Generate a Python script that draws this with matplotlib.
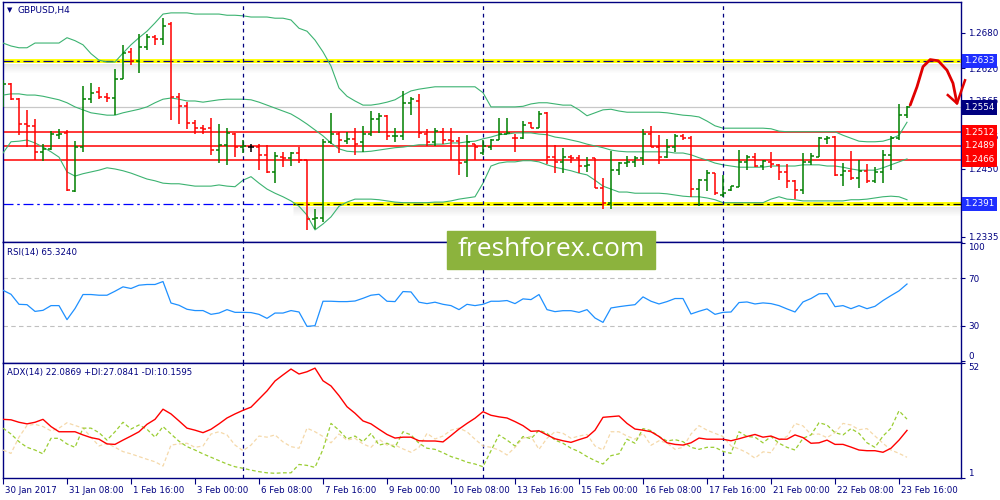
import matplotlib
matplotlib.use("Agg")
import matplotlib.pyplot as plt
import numpy as np
from matplotlib import transforms
from matplotlib.patches import Rectangle

# ---- data ----
opens = [1.2567, 1.2593, 1.2568, 1.2526, 1.2523, 1.2478, 1.2484, 1.2507, 1.2511, 1.2413,
         1.2487, 1.2568, 1.2581, 1.2572, 1.2570, 1.2603, 1.2647, 1.2633, 1.2656, 1.2673,
         1.2669, 1.2696, 1.2571, 1.2557, 1.2527, 1.2519, 1.2519, 1.2482, 1.2491, 1.2510,
         1.2488, 1.2488, 1.2488, 1.2474, 1.2445, 1.2471, 1.2468, 1.2477, 1.2465, 1.2365,
         1.2367, 1.2496, 1.2510, 1.2498, 1.2500, 1.2495, 1.2509, 1.2534, 1.2539, 1.2505,
         1.2505, 1.2562, 1.2565, 1.2510, 1.2496, 1.2513, 1.2499, 1.2498, 1.2461, 1.2492,
         1.2477, 1.2488, 1.2499, 1.2509, 1.2503, 1.2503, 1.2528, 1.2520, 1.2545, 1.2471,
         1.2462, 1.2471, 1.2468, 1.2455, 1.2468, 1.2418, 1.2392, 1.2448, 1.2460, 1.2462,
         1.2468, 1.2510, 1.2488, 1.2471, 1.2488, 1.2505, 1.2502, 1.2416, 1.2431, 1.2443,
         1.2406, 1.2415, 1.2420, 1.2461, 1.2471, 1.2455, 1.2462, 1.2457, 1.2445, 1.2429,
         1.2415, 1.2461, 1.2471, 1.2501, 1.2504, 1.2440, 1.2447, 1.2434, 1.2447, 1.2429,
         1.2445, 1.2474, 1.2503, 1.2541]
highs = [1.2600, 1.2595, 1.2570, 1.2549, 1.2535, 1.2492, 1.2515, 1.2517, 1.2516, 1.2497,
         1.2590, 1.2595, 1.2589, 1.2579, 1.2619, 1.2660, 1.2654, 1.2679, 1.2679, 1.2677,
         1.2705, 1.2699, 1.2579, 1.2564, 1.2533, 1.2524, 1.2537, 1.2526, 1.2520, 1.2511,
         1.2499, 1.2493, 1.2492, 1.2491, 1.2478, 1.2479, 1.2478, 1.2488, 1.2466, 1.2383,
         1.2500, 1.2545, 1.2513, 1.2512, 1.2519, 1.2523, 1.2548, 1.2545, 1.2541, 1.2520,
         1.2582, 1.2571, 1.2577, 1.2517, 1.2520, 1.2519, 1.2519, 1.2504, 1.2507, 1.2493,
         1.2499, 1.2500, 1.2537, 1.2537, 1.2510, 1.2531, 1.2530, 1.2548, 1.2547, 1.2491,
         1.2485, 1.2474, 1.2474, 1.2471, 1.2468, 1.2435, 1.2481, 1.2461, 1.2472, 1.2472,
         1.2517, 1.2522, 1.2507, 1.2500, 1.2510, 1.2509, 1.2505, 1.2433, 1.2448, 1.2443,
         1.2440, 1.2422, 1.2482, 1.2474, 1.2477, 1.2466, 1.2478, 1.2458, 1.2458, 1.2431,
         1.2477, 1.2477, 1.2504, 1.2506, 1.2505, 1.2460, 1.2480, 1.2465, 1.2458, 1.2454,
         1.2482, 1.2505, 1.2560, 1.2557]
lows = [1.2555, 1.2566, 1.2507, 1.2488, 1.2466, 1.2464, 1.2482, 1.2500, 1.2413, 1.2411,
        1.2478, 1.2561, 1.2568, 1.2564, 1.2541, 1.2603, 1.2626, 1.2612, 1.2651, 1.2659,
        1.2659, 1.2533, 1.2526, 1.2517, 1.2509, 1.2510, 1.2473, 1.2460, 1.2456, 1.2471,
        1.2477, 1.2478, 1.2448, 1.2443, 1.2426, 1.2453, 1.2455, 1.2460, 1.2346, 1.2348,
        1.2361, 1.2493, 1.2477, 1.2493, 1.2473, 1.2478, 1.2505, 1.2511, 1.2499, 1.2495,
        1.2499, 1.2541, 1.2503, 1.2489, 1.2489, 1.2493, 1.2465, 1.2439, 1.2437, 1.2466,
        1.2474, 1.2482, 1.2499, 1.2509, 1.2479, 1.2500, 1.2519, 1.2519, 1.2458, 1.2443,
        1.2444, 1.2460, 1.2444, 1.2445, 1.2417, 1.2382, 1.2383, 1.2440, 1.2453, 1.2453,
        1.2457, 1.2487, 1.2458, 1.2468, 1.2478, 1.2499, 1.2403, 1.2387, 1.2412, 1.2406,
        1.2403, 1.2412, 1.2420, 1.2449, 1.2454, 1.2449, 1.2451, 1.2431, 1.2417, 1.2400,
        1.2408, 1.2456, 1.2470, 1.2492, 1.2438, 1.2422, 1.2431, 1.2417, 1.2427, 1.2427,
        1.2426, 1.2448, 1.2499, 1.2537]
closes = [1.2593, 1.2568, 1.2526, 1.2523, 1.2478, 1.2484, 1.2509, 1.2510, 1.2415, 1.2487,
          1.2568, 1.2578, 1.2572, 1.2570, 1.2602, 1.2646, 1.2633, 1.2656, 1.2674, 1.2669,
          1.2691, 1.2571, 1.2557, 1.2528, 1.2519, 1.2517, 1.2482, 1.2491, 1.2511, 1.2488,
          1.2489, 1.2488, 1.2474, 1.2445, 1.2472, 1.2468, 1.2477, 1.2465, 1.2365, 1.2367,
          1.2496, 1.2509, 1.2499, 1.2500, 1.2493, 1.2509, 1.2534, 1.2539, 1.2505, 1.2506,
          1.2562, 1.2568, 1.2511, 1.2496, 1.2514, 1.2499, 1.2498, 1.2460, 1.2495, 1.2488,
          1.2489, 1.2499, 1.2509, 1.2511, 1.2502, 1.2524, 1.2520, 1.2543, 1.2471, 1.2462,
          1.2470, 1.2468, 1.2455, 1.2456, 1.2418, 1.2393, 1.2448, 1.2460, 1.2462, 1.2468,
          1.2510, 1.2488, 1.2471, 1.2488, 1.2505, 1.2502, 1.2416, 1.2431, 1.2444, 1.2409,
          1.2410, 1.2421, 1.2461, 1.2471, 1.2455, 1.2464, 1.2458, 1.2445, 1.2429, 1.2415,
          1.2461, 1.2472, 1.2502, 1.2503, 1.2440, 1.2447, 1.2434, 1.2447, 1.2429, 1.2445,
          1.2474, 1.2503, 1.2541, 1.2554]

bb_upper = [1.2663, 1.2658, 1.2655, 1.2655, 1.2663, 1.2663, 1.2663, 1.2663, 1.2672, 1.2667,
            1.2660, 1.2645, 1.2634, 1.2631, 1.2631, 1.2646, 1.2660, 1.2672, 1.2683, 1.2697,
            1.2712, 1.2714, 1.2714, 1.2714, 1.2712, 1.2712, 1.2712, 1.2712, 1.2710, 1.2710,
            1.2709, 1.2707, 1.2707, 1.2707, 1.2705, 1.2705, 1.2702, 1.2688, 1.2683, 1.2668,
            1.2648, 1.2624, 1.2587, 1.2573, 1.2565, 1.2558, 1.2558, 1.2560, 1.2563, 1.2567,
            1.2575, 1.2582, 1.2585, 1.2587, 1.2589, 1.2589, 1.2589, 1.2589, 1.2589, 1.2589,
            1.2579, 1.2555, 1.2555, 1.2555, 1.2555, 1.2556, 1.2560, 1.2562, 1.2562, 1.2560,
            1.2558, 1.2558, 1.2550, 1.2540, 1.2545, 1.2550, 1.2551, 1.2548, 1.2546, 1.2546,
            1.2546, 1.2546, 1.2546, 1.2545, 1.2543, 1.2541, 1.2540, 1.2538, 1.2531, 1.2523,
            1.2519, 1.2519, 1.2519, 1.2519, 1.2519, 1.2519, 1.2518, 1.2514, 1.2513, 1.2513,
            1.2513, 1.2513, 1.2513, 1.2513, 1.2513, 1.2507, 1.2502, 1.2497, 1.2496, 1.2496,
            1.2497, 1.2501, 1.2507, 1.2529]
bb_middle = [1.2575, 1.2577, 1.2577, 1.2575, 1.2575, 1.2573, 1.2570, 1.2567, 1.2562, 1.2555,
             1.2550, 1.2545, 1.2543, 1.2541, 1.2541, 1.2545, 1.2548, 1.2551, 1.2555, 1.2562,
             1.2568, 1.2570, 1.2568, 1.2565, 1.2565, 1.2563, 1.2565, 1.2567, 1.2568, 1.2568,
             1.2568, 1.2567, 1.2563, 1.2558, 1.2553, 1.2548, 1.2543, 1.2535, 1.2526, 1.2516,
             1.2506, 1.2494, 1.2484, 1.2480, 1.2479, 1.2479, 1.2480, 1.2482, 1.2484, 1.2486,
             1.2487, 1.2489, 1.2491, 1.2491, 1.2492, 1.2492, 1.2494, 1.2494, 1.2496, 1.2497,
             1.2501, 1.2504, 1.2508, 1.2509, 1.2511, 1.2511, 1.2511, 1.2509, 1.2508, 1.2504,
             1.2502, 1.2499, 1.2496, 1.2492, 1.2489, 1.2486, 1.2482, 1.2480, 1.2479, 1.2479,
             1.2479, 1.2479, 1.2479, 1.2479, 1.2477, 1.2477, 1.2474, 1.2469, 1.2465, 1.2460,
             1.2457, 1.2455, 1.2453, 1.2453, 1.2453, 1.2453, 1.2455, 1.2455, 1.2455, 1.2455,
             1.2457, 1.2457, 1.2457, 1.2455, 1.2455, 1.2453, 1.2450, 1.2448, 1.2448, 1.2448,
             1.2452, 1.2457, 1.2462, 1.2467]
bb_lower = [1.2477, 1.2496, 1.2497, 1.2499, 1.2494, 1.2487, 1.2479, 1.2470, 1.2445, 1.2438,
            1.2442, 1.2445, 1.2448, 1.2452, 1.2450, 1.2447, 1.2443, 1.2438, 1.2433, 1.2430,
            1.2426, 1.2425, 1.2425, 1.2423, 1.2421, 1.2421, 1.2421, 1.2423, 1.2421, 1.2420,
            1.2431, 1.2437, 1.2426, 1.2416, 1.2409, 1.2403, 1.2396, 1.2387, 1.2372, 1.2347,
            1.2357, 1.2369, 1.2387, 1.2394, 1.2399, 1.2399, 1.2399, 1.2398, 1.2396, 1.2394,
            1.2393, 1.2393, 1.2393, 1.2393, 1.2394, 1.2394, 1.2396, 1.2399, 1.2401, 1.2403,
            1.2426, 1.2455, 1.2460, 1.2462, 1.2462, 1.2464, 1.2464, 1.2462, 1.2457, 1.2453,
            1.2450, 1.2447, 1.2443, 1.2440, 1.2431, 1.2421, 1.2416, 1.2411, 1.2411, 1.2409,
            1.2409, 1.2409, 1.2409, 1.2408, 1.2406, 1.2404, 1.2403, 1.2403, 1.2401, 1.2398,
            1.2393, 1.2393, 1.2393, 1.2393, 1.2393, 1.2393, 1.2399, 1.2403, 1.2399, 1.2398,
            1.2396, 1.2396, 1.2396, 1.2396, 1.2396, 1.2396, 1.2398, 1.2398, 1.2399, 1.2401,
            1.2403, 1.2404, 1.2403, 1.2398]

rsi = [60.0, 56.6, 48.1, 47.8, 42.1, 43.0, 47.0, 47.0, 35.1, 44.5,
       56.4, 56.4, 55.8, 55.8, 59.2, 62.9, 61.5, 64.3, 64.9, 64.9,
       67.4, 49.2, 47.3, 43.9, 42.8, 42.8, 39.6, 40.7, 43.6, 41.3,
       41.3, 41.1, 39.6, 36.2, 40.7, 40.7, 42.8, 41.6, 29.4, 30.0,
       50.7, 50.7, 50.4, 50.4, 50.9, 53.2, 55.8, 56.6, 50.7, 50.4,
       58.9, 58.6, 49.9, 48.7, 49.9, 48.1, 47.0, 43.6, 48.1, 47.0,
       48.1, 50.7, 50.7, 51.3, 48.7, 52.7, 52.1, 56.4, 43.6, 41.9,
       42.7, 42.7, 41.3, 43.6, 36.5, 32.8, 45.0, 46.1, 47.0, 47.8,
       54.4, 50.7, 48.4, 50.4, 53.0, 53.0, 39.9, 42.2, 44.2, 39.6,
       41.3, 41.6, 49.6, 50.1, 48.4, 49.3, 48.7, 47.0, 44.2, 41.6,
       50.1, 53.0, 57.0, 57.2, 46.1, 47.0, 44.4, 47.0, 44.4, 46.4,
       51.3, 55.5, 59.5, 65.3]

adx = [27.0, 26.8, 25.7, 25.0, 25.7, 27.0, 23.8, 21.5, 21.5, 21.5,
       20.1, 18.9, 18.2, 16.1, 15.9, 17.8, 19.6, 21.5, 24.8, 27.0,
       31.5, 29.4, 26.3, 23.1, 22.2, 21.1, 22.6, 25.0, 27.6, 29.4,
       31.0, 32.4, 36.0, 39.6, 44.0, 46.7, 49.3, 47.1, 48.1, 49.7,
       44.1, 41.8, 37.5, 32.6, 29.7, 26.3, 25.0, 22.6, 20.3, 18.7,
       19.1, 19.1, 17.5, 17.4, 17.4, 17.0, 19.8, 22.7, 25.2, 27.5,
       30.4, 28.8, 28.1, 27.6, 26.0, 24.2, 21.7, 21.9, 20.1, 18.4,
       17.5, 16.8, 18.0, 19.1, 22.2, 27.9, 28.2, 28.5, 25.2, 22.7,
       22.2, 21.5, 19.4, 16.6, 15.9, 15.6, 16.6, 18.7, 18.2, 18.2,
       18.2, 17.5, 18.4, 19.4, 20.3, 19.1, 19.6, 18.2, 18.2, 20.1,
       18.9, 16.4, 16.6, 17.8, 15.9, 15.9, 14.7, 13.4, 13.1, 13.1,
       12.4, 14.2, 17.8, 22.1]
plus_di = [23.1, 20.5, 17.1, 14.6, 13.4, 11.7, 18.6, 18.6, 16.1, 14.6,
           23.1, 23.1, 21.1, 17.8, 21.5, 25.7, 22.7, 24.5, 22.6, 19.1,
           23.8, 20.5, 17.3, 14.9, 13.4, 11.7, 10.2, 8.7, 7.2, 6.0,
           5.3, 4.5, 3.8, 3.3, 3.1, 3.3, 3.3, 7.0, 6.6, 5.7,
           13.7, 25.2, 22.2, 18.3, 19.6, 17.1, 20.8, 15.6, 16.4, 14.6,
           21.5, 20.1, 16.4, 14.2, 13.7, 12.2, 10.5, 9.4, 8.0, 7.2,
           6.0, 13.1, 20.1, 17.8, 15.2, 19.4, 18.4, 22.2, 20.8, 17.8,
           16.4, 14.2, 12.7, 10.5, 8.7, 7.2, 10.9, 11.7, 18.2, 16.4,
           22.9, 22.0, 19.4, 17.4, 18.0, 17.1, 14.6, 13.7, 14.6, 14.6,
           12.8, 11.9, 21.5, 19.4, 19.1, 16.6, 19.4, 16.4, 14.6, 13.4,
           18.6, 20.1, 25.5, 24.5, 21.1, 20.1, 22.9, 20.8, 16.6, 14.6,
           19.6, 23.1, 30.8, 27.1]
minus_di = [13.4, 11.9, 19.1, 24.3, 24.8, 23.8, 21.9, 23.1, 25.5, 24.3,
            23.1, 19.1, 15.2, 16.4, 14.6, 12.7, 11.7, 10.5, 9.3, 8.2,
            6.3, 15.6, 16.1, 16.4, 14.6, 15.2, 20.5, 21.5, 20.1, 15.6,
            13.1, 15.6, 19.6, 19.1, 20.1, 17.0, 14.9, 14.2, 23.1, 21.5,
            19.4, 16.6, 20.5, 17.8, 18.6, 16.1, 14.6, 18.2, 15.6, 15.6,
            13.9, 12.4, 14.6, 20.8, 18.3, 19.6, 22.2, 23.1, 21.5, 18.2,
            15.2, 14.6, 13.4, 11.2, 14.6, 18.7, 19.4, 13.7, 18.6, 21.5,
            20.8, 18.6, 19.6, 20.3, 15.2, 13.4, 21.5, 21.5, 19.6, 18.2,
            20.8, 15.5, 17.5, 16.6, 13.7, 14.6, 20.5, 24.2, 22.2, 20.8,
            19.4, 15.2, 13.9, 12.2, 9.8, 12.6, 12.2, 17.8, 19.4, 25.2,
            24.1, 20.3, 20.5, 18.9, 21.1, 25.2, 24.5, 22.4, 22.9, 19.6,
            16.4, 13.4, 11.9, 10.2]

date_labels = ["30 Jan 2017", "31 Jan 08:00", "1 Feb 16:00", "3 Feb 00:00", "6 Feb 08:00",
               "7 Feb 16:00", "9 Feb 00:00", "10 Feb 08:00", "13 Feb 16:00", "15 Feb 00:00",
               "16 Feb 08:00", "17 Feb 16:00", "21 Feb 00:00", "22 Feb 08:00", "23 Feb 16:00"]
date_bars = list(range(0, 113, 8))
week_starts = [30, 60, 90]

# the 1.2390 scale label sits fully under the 1.2391 tag in the screenshot
price_ticks = [1.2680, 1.2620, 1.2565, 1.2505, 1.2450, 1.2390, 1.2335]
price_tick_labels = ["1.2680", "1.2620", "1.2565", "1.2505", "1.2450", "", "1.2335"]
resistance = 1.2633
support = 1.2391
support_start = 36.2
bid = 1.2554
red_levels = [1.2512, 1.2489, 1.2466]
arrow_x = [113.4, 114.25, 115.0, 115.9, 116.9, 118.0, 118.75, 119.25]
arrow_y = [1.2558, 1.2589, 1.2623, 1.2635, 1.2633, 1.2617, 1.2595, 1.2561]
arrow_head_x = [118.1, 119.25, 120.25]
arrow_head_y = [1.2575, 1.2561, 1.2600]

# ---- layout (MT4 style, pixel based) ----
NAVY = "#000080"
W, H = 1000, 500
plt.rcParams["font.family"] = ["DejaVu Sans"]
fig = plt.figure(figsize=(W / 100, H / 100), dpi=100)
fig.patch.set_facecolor("white")


def panel(y0, y1):
    return fig.add_axes([2.5 / W, 1 - y1 / H, (961 - 2.5) / W, (y1 - y0) / H])


ax_p = panel(2, 242)
ax_r = panel(242, 362.5)
ax_a = panel(362.5, 478)
x = np.arange(len(closes))

for ax in (ax_p, ax_r, ax_a):
    ax.set_xlim(-0.0625, 119.75)
    for sp in ax.spines.values():
        sp.set_color(NAVY)
        sp.set_linewidth(1.0)
    ax.yaxis.tick_right()
    ax.tick_params(axis="y", length=3, width=0.8, color=NAVY, labelsize=6.3,
                   labelcolor=NAVY, pad=2)
    for s in week_starts:
        ax.axvline(s, color=NAVY, lw=0.9, ls=(0, (3, 3)), zorder=3)
for ax in (ax_p, ax_r):
    ax.set_xticks([])

# price panel
ax_p.set_ylim(1.23265, 1.27324)
pxl = (1.27324 - 1.23265) / 240.0
ax_p.set_yticks(price_ticks)
ax_p.set_yticklabels(price_tick_labels)

ax_p.axhline(bid, color="#c8c8c8", lw=0.9, zorder=1)
for lv in red_levels:
    ax_p.axhline(lv, color="#ff0000", lw=1.1, zorder=2)

for k in range(1, 10):
    a = 0.10 * (1 - k / 10)
    ax_p.axhline(resistance - (2 + k) * pxl, color="k", alpha=a, lw=0.75, zorder=1)
    ax_p.hlines(support - (2 + k) * pxl, support_start, 119.75, color="k", alpha=a,
                lw=0.75, zorder=1)
ax_p.axhline(resistance, color="#ffff00", lw=2.8, zorder=2)
ax_p.axhline(resistance, color=NAVY, lw=0.9, ls=(0, (8, 3, 2, 3)), zorder=2.5)
ax_p.axhline(support, color="#0000ff", lw=0.9, ls=(0, (8, 3, 2, 3)), zorder=2)
ax_p.hlines(support, support_start, 119.75, color="#ffff00", lw=2.8, zorder=2.2)
ax_p.hlines(support, support_start, 119.75, color="k", lw=0.9, ls=(0, (8, 3, 2, 3)),
            zorder=2.5)

for band in (bb_upper, bb_middle, bb_lower):
    ax_p.plot(x, band, color="#3cb371", lw=0.8, zorder=2.6)

o = np.array(opens)
c = np.array(closes)
cols = np.where(c > o, "#008000", np.where(c < o, "#ff0000", "#000000"))
ax_p.vlines(x, lows, highs, colors=cols, lw=1.1, zorder=4)
ax_p.hlines(o, x - 0.36, x, colors=cols, lw=1.1, zorder=4)
ax_p.hlines(c, x, x + 0.36, colors=cols, lw=1.1, zorder=4)

ax_p.plot(arrow_x, arrow_y, color="#e00000", lw=2.0, clip_on=False, zorder=8,
          solid_capstyle="round")
ax_p.plot(arrow_head_x, arrow_head_y, color="#e00000", lw=1.8, clip_on=False, zorder=8)

lab_tr = transforms.blended_transform_factory(ax_p.transAxes, ax_p.transData)
boxes = [(resistance, "#1f2fff"), (bid, "#000080"), (red_levels[0], "#ff0000"),
         (red_levels[1], "#ff0000"), (red_levels[2], "#ff0000"), (support, "#1f2fff")]
for val, col in boxes:
    ax_p.text(1.0035, val, f"{val:.4f}", transform=lab_tr, ha="left", va="center",
              fontsize=6.3, color="white", clip_on=False, zorder=10,
              bbox=dict(boxstyle="square,pad=0.3", fc=col, ec="none"))

# RSI panel
ax_r.set_ylim(-1.2, 100.9)
ax_r.plot(x, rsi, color="#1e90ff", lw=0.9, zorder=4)
for lv in (70, 30):
    ax_r.axhline(lv, color="#c0c0c0", lw=0.8, ls=(0, (4, 3)), zorder=1)
ax_r.set_yticks([0, 30, 70, 100])
ax_r.set_yticklabels(["0", "30", "70", "100"])
rl = ax_r.get_yticklabels()
rl[0].set_va("bottom")
rl[-1].set_va("top")

# ADX panel
ax_a.set_ylim(1, 52.2)
ax_a.plot(x, minus_di, color="#f5d9aa", lw=0.9, ls=(0, (3, 2)), zorder=3)
ax_a.plot(x, plus_di, color="#9acd32", lw=0.9, ls=(0, (3, 2)), zorder=3)
ax_a.plot(x, adx, color="#ff0000", lw=1.0, zorder=4)
ax_a.set_yticks([1, 52])
ax_a.set_yticklabels(["1", "52"])
al = ax_a.get_yticklabels()
al[0].set_va("bottom")
al[1].set_va("top")

ax_a.set_xticks(date_bars)
ax_a.set_xticklabels(date_labels)
ax_a.tick_params(axis="x", length=4, width=0.8, color=NAVY, labelsize=6.2,
                 labelcolor=NAVY, pad=2)
shift = transforms.ScaledTranslation(2 / 100, 0, fig.dpi_scale_trans)
for lbl in ax_a.get_xticklabels():
    lbl.set_ha("left")
    lbl.set_transform(lbl.get_transform() + shift)

# captions
fig.text(7 / W, 1 - 10 / H, "\u25bc", fontsize=5, color=NAVY, va="center")
fig.text(18 / W, 1 - 10 / H, "GBPUSD,H4", fontsize=6.5, color=NAVY, va="center")
fig.text(7 / W, 1 - 252 / H, "RSI(14) 65.3240", fontsize=6.2, color=NAVY, va="center")
fig.text(7 / W, 1 - 372 / H, "ADX(14) 22.0869 +DI:27.0841 -DI:10.1595", fontsize=6.2,
         color=NAVY, va="center")

# watermark
fig.add_artist(Rectangle((447 / W, 1 - 269 / H), 208 / W, 38 / H,
                         transform=fig.transFigure, color="#8cb33d", zorder=20))
fig.text(551 / W, 1 - 250 / H, "freshforex.com", fontsize=19, color="white",
         family=["Open Sans", "DejaVu Sans"], ha="center", va="center", zorder=21)

fig.savefig("out.png", dpi=100)
